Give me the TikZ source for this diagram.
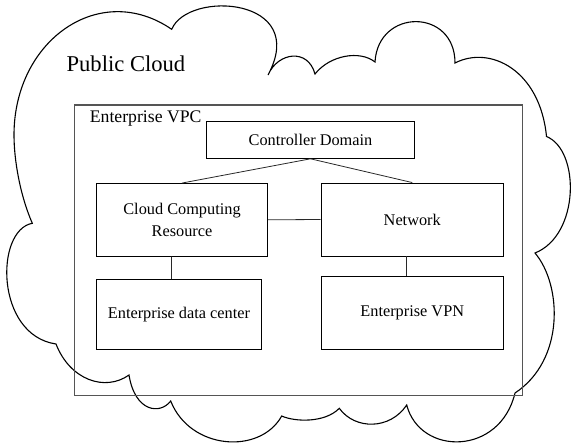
\documentclass[tikz,border=0pt]{standalone}
\usepackage{fontspec}
\setmainfont{Liberation Serif}
\usetikzlibrary{calc}
\definecolor{linkgray}{RGB}{40,40,40}
\definecolor{framegray}{RGB}{85,85,85}
\begin{document}
\begin{tikzpicture}[x=1pt,y=-1pt,
  boxtext/.style={font=\fontsize{16.3}{22}\selectfont},
  unitbox/.style={boxtext,draw=black,line width=0.9pt,inner sep=0pt,align=center},
  link/.style={draw=linkgray,line width=0.8pt},
  cloudline/.style={draw=black,line width=1.1pt,line join=miter}]
\useasboundingbox (0,0) rectangle (572,445);

% cloud outline, one Bezier arc per lobe, clockwise from the top left
\draw[cloudline] (171.7,29.3)
  .. controls (188,-10) and (310,-3) .. (268,75)
  .. controls (278,52) and (308,48) .. (315,74)
  .. controls (330,55) and (360,50) .. (375,62)
  .. controls (378,8) and (455,8) .. (455,63)
  .. controls (490,45) and (540,70) .. (546.5,136.5)
  .. controls (580,150) and (580,235) .. (535,253)
  .. controls (562,285) and (565,360) .. (515,393)
  .. controls (500,456) and (420,456) .. (406.7,405)
  .. controls (390,430) and (355,430) .. (339.3,408.3)
  .. controls (325,423) and (295,422) .. (281.7,416)
  .. controls (260,455) and (190,450) .. (170.7,401)
  .. controls (160,415) and (135,412) .. (129,375)
  .. controls (105,392) and (70,380) .. (56,344)
  .. controls (-5,335) and (-5,230) .. (32.3,223.3)
  .. controls (20,195) and (14,160) .. (14,135)
  .. controls (14,40) and (100,-20) .. (171.7,29.3)
  -- cycle;

\node[anchor=base west,font=\fontsize{22.6}{27}\selectfont,inner sep=0pt] (pubtitle) at (66.4,71.7) {Public Cloud};

% enterprise VPC frame
\draw[draw=framegray,line width=1.3pt] (74.8,105) rectangle (522.4,395.5);
\node[anchor=base west,font=\fontsize{17.7}{21}\selectfont,inner sep=0pt] (vpctitle) at (89.7,122) {Enterprise VPC};

% components
\node[unitbox,minimum width=208pt,minimum height=37.3pt] (ctrl) at (310.5,139.7) {Controller Domain};
\node[unitbox,minimum width=171.5pt,minimum height=72.6pt] (ccr) at (182,219.8) {Cloud Computing\\Resource};
\node[unitbox,minimum width=182.5pt,minimum height=73pt] (net) at (412.25,219.5) {Network};
\node[unitbox,minimum width=165.3pt,minimum height=70pt] (edc) at (178.95,314.5) {Enterprise data center};
\node[unitbox,minimum width=182.5pt,minimum height=73.3pt] (vpn) at (412.25,312.85) {Enterprise VPN};

% links
\draw[link] (ctrl.south) -- (ccr.north);
\draw[link] (ctrl.south) -- (net.north);
\draw[link] (ccr.east) -- (net.west);
\draw[link] ([xshift=-10.5pt]ccr.south) -- ([xshift=-7.5pt]edc.north);
\draw[link] ([xshift=-5.5pt]net.south) -- ([xshift=-5.5pt]vpn.north);
\end{tikzpicture}
\end{document}
